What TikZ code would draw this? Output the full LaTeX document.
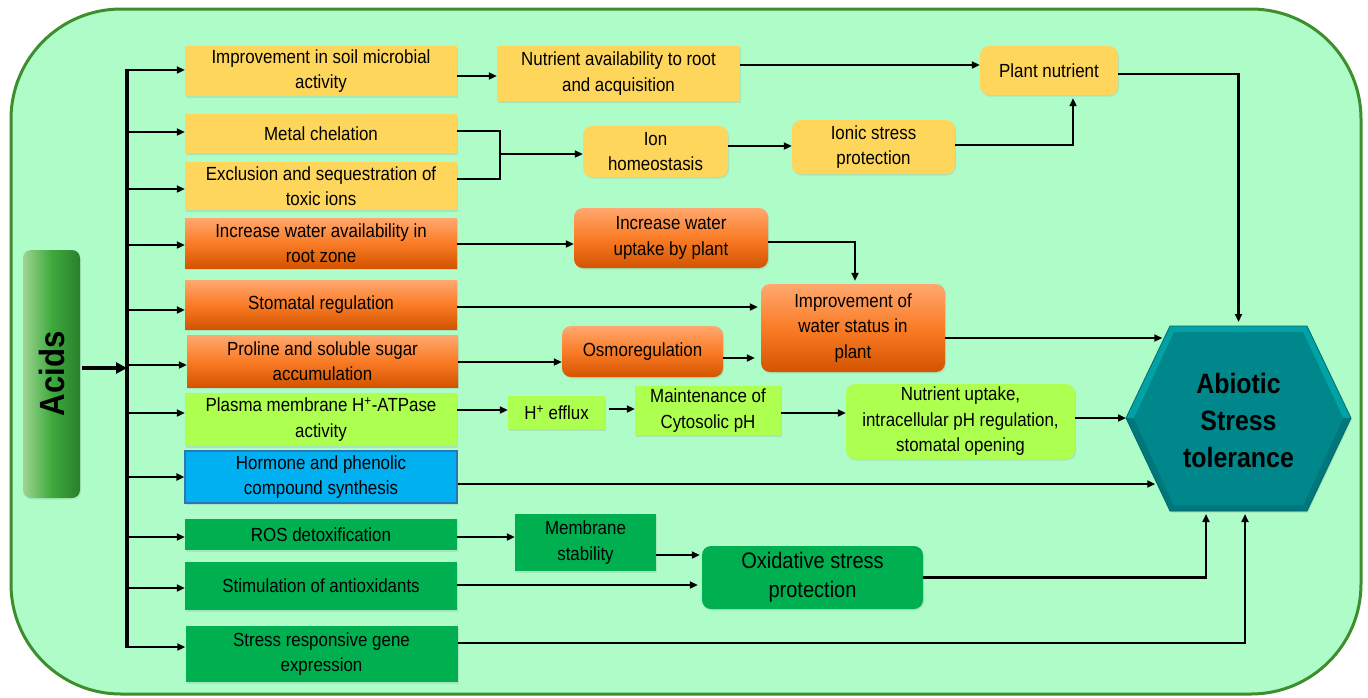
\documentclass[tikz,border=0pt]{standalone}
\usepackage{fontspec}
\setmainfont{Liberation Sans}[FakeStretch=0.89]
\usetikzlibrary{arrows.meta,calc,shadows}
\definecolor{bg}{HTML}{AEFDC8}
\definecolor{bgline}{HTML}{3E8E2E}
\definecolor{ylw}{HTML}{FFD65C}
\definecolor{lime}{HTML}{ADFF50}
\definecolor{blu}{HTML}{00B0F0}
\definecolor{blued}{HTML}{2E75B6}
\definecolor{grn}{HTML}{00B050}
\definecolor{orT}{HTML}{FFA870}
\definecolor{orM}{HTML}{FA7C26}
\definecolor{orB}{HTML}{D25400}
\definecolor{acL}{HTML}{9ED592}
\definecolor{acM}{HTML}{3DAA3D}
\definecolor{acR}{HTML}{2A7F2A}
\definecolor{hexlt}{HTML}{00A2A5}
\definecolor{hexdk}{HTML}{00777A}
\definecolor{hexmd}{HTML}{00878B}
\definecolor{hexln}{HTML}{006B6E}
\begin{document}
\begin{tikzpicture}[x=1pt,y=-1pt,
 txt/.style={align=center,inner sep=0pt,font=\fontsize{19}{25.5}\selectfont,text=black},
 sq/.style={txt,rectangle},
 rnd/.style={txt,rectangle,rounded corners=9pt},
 yel/.style={fill=ylw},
 org/.style={top color=orT,bottom color=orB,middle color=orM},
 lim/.style={fill=lime},
 gre/.style={fill=grn},
 shd/.style={drop shadow={opacity=0.18,shadow xshift=1pt,shadow yshift=-1.5pt}},
 arr/.style={line width=2.1pt,-{Triangle[length=8pt,width=7pt]}},
 ln/.style={line width=2.1pt},
 ]
\useasboundingbox (0,0) rectangle (1368,697);
\draw[bgline, line width=3pt, fill=bg, rounded corners=110pt] (11,9) rectangle (1361,694);

% Acids
\node[rounded corners=8pt, left color=acL, right color=acR, middle color=acM, minimum width=57pt, minimum height=248pt, inner sep=0pt, drop shadow={opacity=0.15,shadow xshift=1pt,shadow yshift=-1.5pt}] (acids) at (51.5,374) {};
\node[rotate=90, inner sep=0pt, font=\bfseries\fontsize{35}{40}\selectfont] (acidsT) at (acids.center) {Acids};

% left column
\node[sq,yel,shd,minimum width=272pt,minimum height=50pt] (b1) at (321,71) {Improvement in soil microbial\\activity};
\node[sq,yel,shd,minimum width=272pt,minimum height=39pt] (b2) at (321,133.5) {Metal chelation};
\node[sq,yel,shd,minimum width=272pt,minimum height=48pt] (b3) at (321,186) {Exclusion and sequestration of\\toxic ions};
\node[sq,org,shd,minimum width=272pt,minimum height=50pt] (b4) at (321,243) {Increase water availability in\\root zone};
\node[sq,org,shd,minimum width=272pt,minimum height=49pt] (b5) at (321,304.5) {Stomatal regulation};
\node[sq,org,shd,minimum width=271pt,minimum height=52pt] (b6) at (322.5,361) {Proline and soluble sugar\\accumulation};
\node[sq,lim,shd,minimum width=272pt,minimum height=53pt] (b7) at (321,419.5) {Plasma membrane H\textsuperscript{+}-ATPase\\activity};
\node[sq,fill=blu,draw=blued,line width=1.2pt,shd,minimum width=272pt,minimum height=52pt] (b8) at (321,477) {Hormone and phenolic\\compound synthesis};
\node[sq,gre,shd,minimum width=272pt,minimum height=31pt] (b9) at (321,534.5) {ROS detoxification};
\node[sq,gre,shd,minimum width=272pt,minimum height=48pt] (b10) at (321,586) {Stimulation of antioxidants};
\node[sq,gre,shd,minimum width=272pt,minimum height=56pt] (b11) at (321.5,654) {Stress responsive gene\\expression};

% middle
\node[sq,yel,shd,minimum width=243pt,minimum height=55pt] (nav) at (618.5,73.5) {Nutrient availability to root\\and acquisition};
\node[rnd,yel,shd,minimum width=138pt,minimum height=49pt] (pn) at (1049,70.5) {Plant nutrient};
\node[rnd,yel,shd,minimum width=145pt,minimum height=51pt] (ion) at (655.5,151.5) {Ion\\homeostasis};
\node[rnd,yel,shd,minimum width=163pt,minimum height=54pt] (isp) at (873.5,147) {Ionic stress\\protection};
\node[rnd,org,shd,minimum width=194pt,minimum height=60pt] (wup) at (671,238) {Increase water\\uptake by plant};
\node[rnd,org,shd,minimum width=184pt,minimum height=88pt] (iws) at (853,328) {Improvement of\\water status in\\plant};
\node[rnd,org,shd,minimum width=161pt,minimum height=51pt] (osm) at (642.5,351.5) {Osmoregulation};
\node[sq,lim,shd,minimum width=97pt,minimum height=33pt] (hef) at (556.5,412.5) {H\textsuperscript{+} efflux};
\node[sq,lim,shd,minimum width=146pt,minimum height=49pt] (mcp) at (708,410.5) {Maintenance of\\Cytosolic pH};
\node[rnd,lim,shd,minimum width=229pt,minimum height=75pt] (nup) at (960.5,421.5) {Nutrient uptake,\\intracellular pH regulation,\\stomatal opening};
\node[sq,gre,shd,minimum width=141pt,minimum height=57pt] (mem) at (585.5,542.5) {Membrane\\stability};
\node[rnd,gre,shd,minimum width=221pt,minimum height=63pt,font=\fontsize{22.5}{29}\selectfont] (oxi) at (812.5,577.5) {Oxidative stress\\protection};

% hexagon
\coordinate (hL) at (1126,418);
\coordinate (hTL) at (1170,326);
\coordinate (hTR) at (1307,326);
\coordinate (hR) at (1351,418);
\coordinate (hBR) at (1307,511);
\coordinate (hBL) at (1170,511);
\coordinate (iL) at (1134,418);
\coordinate (iTL) at (1174,332);
\coordinate (iTR) at (1303,332);
\coordinate (iR) at (1343,418);
\coordinate (iBR) at (1303,505);
\coordinate (iBL) at (1174,505);
\coordinate (hT) at (1238.5,326);
\coordinate (hB) at (1238.5,511);
\fill[hexlt, drop shadow={opacity=0.2,shadow xshift=1pt,shadow yshift=-1.5pt}] (hL)--(hTL)--(hTR)--(hR)--(hBR)--(hBL)--cycle;
\fill[hexdk] (hL)--(hBL)--(hBR)--(hR)--(iR)--(iBR)--(iBL)--(iL)--cycle;
\fill[hexmd] (iL)--(iTL)--(iTR)--(iR)--(iBR)--(iBL)--cycle;
\draw[hexln, line width=0.8pt] (hL)--(hTL)--(hTR)--(hR)--(hBR)--(hBL)--cycle;
\node[font=\bfseries\fontsize{28}{37}\selectfont, align=center, inner sep=0pt] (hex) at (1238.5,420) {Abiotic\\Stress\\tolerance};

% trunk
\coordinate (tt) at (127,70);
\coordinate (tb) at (127,647);
\coordinate (ain) at ([yshift=6pt]acids.east);
\draw[line width=4pt,-{Triangle[length=11pt,width=11pt]}] ([xshift=2pt]ain) -- (ain -| tt);
\draw[line width=4pt] ([yshift=1pt]tt) -- ([yshift=-1pt]tb);
\coordinate (b1i) at ([yshift=1pt]b1.west);
\coordinate (b2i) at ([yshift=1.5pt]b2.west);
\coordinate (b3i) at ([yshift=-3pt]b3.west);
\coordinate (b4i) at ([yshift=-2pt]b4.west);
\coordinate (b5i) at ([yshift=-5.5pt]b5.west);
\coordinate (b6i) at ([yshift=-4pt]b6.west);
\coordinate (b7i) at ([yshift=6.5pt]b7.west);
\coordinate (b8i) at (b8.west);
\coordinate (b9i) at ([yshift=-2.5pt]b9.west);
\coordinate (b10i) at ([yshift=-2pt]b10.west);
\coordinate (b11i) at ([yshift=7pt]b11.west);
\foreach \b in {b1i,b2i,b3i,b4i,b5i,b6i,b7i,b8i,b9i,b10i,b11i}
  \draw[arr] (tt |- \b) -- (\b);

% b1 -> nav -> pn
\coordinate (c1) at ([yshift=-5pt]b1.east);
\draw[arr] (c1) -- (c1 -| nav.west);
\coordinate (c2) at ([yshift=8.5pt]nav.east);
\draw[arr] (c2) -- (c2 -| pn.west);
% b2,b3 -> ion
\coordinate (c3) at ([yshift=2.5pt]b2.east);
\coordinate (c4) at ([yshift=7pt]b3.east);
\coordinate (jn) at (500,154);
\draw[ln] (c3) -- (c3 -| jn) -- (c4 -| jn) -- (c4);
\draw[arr] (jn) -- (jn -| ion.west);
% ion -> isp -> pn
\coordinate (c5) at ([yshift=5.5pt]ion.east);
\draw[arr] (c5) -- (c5 -| isp.west);
\coordinate (c6) at ([yshift=2pt]isp.east);
\draw[arr,shorten >=3pt] (c6) -| ([xshift=24pt]pn.south);
% pn -> hex
\coordinate (c7) at ([yshift=-3.5pt]pn.east);
\draw[arr,shorten >=4pt] (c7) -| (hT);
% water
\coordinate (c8) at ([yshift=-1pt]b4.east);
\draw[arr] (c8) -- (c8 -| wup.west);
\coordinate (c9) at ([yshift=-4pt]wup.east);
\draw[arr,shorten >=3pt] (c9) -| ([xshift=2pt]iws.north);
\coordinate (c10) at ([yshift=-2.5pt]b5.east);
\draw[arr,shorten >=3pt] (c10) -- (c10 -| iws.west);
\coordinate (c11) at ([yshift=-1pt]b6.east);
\draw[arr] (c11) -- (c11 -| osm.west);
\coordinate (c12) at ([yshift=-6.5pt]osm.east);
\draw[arr,shorten >=6pt] (c12) -- (c12 -| iws.west);
\coordinate (c13) at ([yshift=-10pt]iws.east);
\coordinate (e1) at ($(hL)!0.87!(hTL)$);
\draw[arr,shorten >=2pt] (c13) -- (c13 -| e1);
% pH
\coordinate (c14) at ([yshift=9.5pt]b7.east);
\draw[arr] (c14) -- (c14 -| hef.west);
\coordinate (c15) at ([yshift=3.5pt]hef.east);
\draw[arr,shorten <=4pt] (c15) -- (c15 -| mcp.west);
\coordinate (c16) at ([yshift=-2.5pt]mcp.east);
\draw[arr] (c16) -- (c16 -| nup.west);
\coordinate (c17) at ([yshift=3.5pt]nup.east);
\draw[arr] (c17) -- (hL);
% hormone
\coordinate (c18) at ([yshift=-7pt]b8.east);
\coordinate (e2) at ($(hL)!0.71!(hBL)$);
\draw[arr,shorten >=2pt] (c18) -- (c18 -| e2);
% oxidative
\coordinate (c19) at ([yshift=-2.5pt]b9.east);
\draw[arr] (c19) -- (c19 -| mem.west);
\coordinate (c20) at ([yshift=-12.5pt]mem.east);
\draw[arr,shorten >=2pt] (c20) -- (c20 -| oxi.west);
\coordinate (c21) at ([yshift=1pt]b10.east);
\draw[arr,shorten >=4pt] (c21) -- (c21 -| oxi.west);
\draw[arr,shorten >=3pt] (oxi.east) -| ([xshift=-32.5pt]hB);
\coordinate (c22) at ([yshift=11pt]b11.east);
\draw[arr,shorten >=3pt] (c22) -| ([xshift=6.5pt]hB);
\end{tikzpicture}
\end{document}
